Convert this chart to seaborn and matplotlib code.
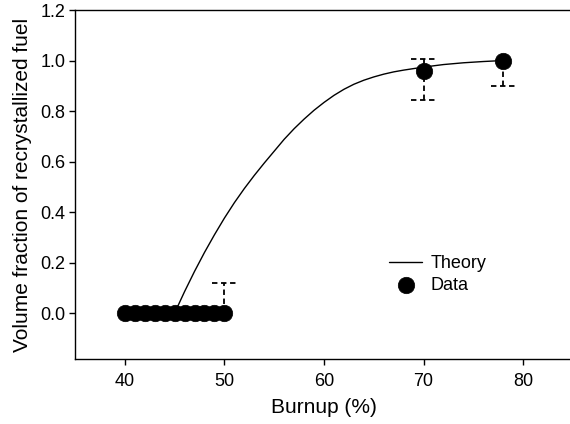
import matplotlib
matplotlib.use("Agg")
import matplotlib.pyplot as plt
import seaborn as sns
import pandas as pd

# data
data_x = [40, 41, 42, 43, 44, 45, 46, 47, 48, 49, 50, 70, 78]
data_y = [0, 0, 0, 0, 0, 0, 0, 0, 0, 0, 0, 0.96, 1.0]

# error bars (x, low end, high end); a cap is only drawn where the bar extends
err_x = [50, 70, 78]
err_lo = [0.0, 0.845, 0.90]
err_hi = [0.12, 1.005, 1.0]
cap_lo = [False, True, True]
cap_hi = [True, True, False]

# theory curve, values
theory_x = [45, 46, 47, 48, 49, 50, 51, 52, 53, 54, 55, 56, 57, 58, 59, 60,
            61, 62, 63, 64, 65, 66, 67, 68, 69, 70, 72, 74, 76, 78]
theory_y = [0.0, 0.085, 0.165, 0.240, 0.310, 0.376, 0.437, 0.493, 0.545,
            0.594, 0.641, 0.688, 0.730, 0.768, 0.803, 0.834, 0.862, 0.886,
            0.906, 0.922, 0.935, 0.946, 0.955, 0.962, 0.968, 0.974, 0.984,
            0.991, 0.996, 1.0]

sns.set_style("ticks", {'axes.edgecolor': 'black', 'xtick.color': 'black',
                        'ytick.color': 'black', 'text.color': 'black',
                        'axes.labelcolor': 'black'})
plt.rcParams['font.family'] = ['Liberation Sans', 'DejaVu Sans']

fig = plt.figure(figsize=(5.7, 4.24), dpi=100)
ax = fig.add_axes([0.1316, 0.1533, 0.8737, 0.8231])

theory = pd.DataFrame({'x': theory_x, 'y': theory_y})
points = pd.DataFrame({'x': data_x, 'y': data_y})

sns.lineplot(data=theory, x='x', y='y', ax=ax, color='black', lw=1.0,
             label='Theory', zorder=2)

# dashed error bars with dashed caps
cap = 1.25
dash = (0, (3, 2))
ax.vlines(err_x, err_lo, err_hi, colors='black', linestyles=dash, lw=1.3, zorder=1)
for x, lo, hi, clo, chi in zip(err_x, err_lo, err_hi, cap_lo, cap_hi):
    if chi:
        ax.hlines(hi, x - cap, x + cap, colors='black', linestyles=dash, lw=1.3, zorder=1)
    if clo:
        ax.hlines(lo, x - cap, x + cap, colors='black', linestyles=dash, lw=1.3, zorder=1)

sns.scatterplot(data=points, x='x', y='y', ax=ax, color='black', s=140,
                edgecolor='black', linewidth=0.5, label='Data', zorder=3)

ax.set_xlim(35, 85)
ax.set_ylim(-0.182, 1.2)
ax.set_xticks([40, 50, 60, 70, 80])
ax.set_yticks([0.0, 0.2, 0.4, 0.6, 0.8, 1.0, 1.2])
ax.set_yticklabels(['0.0', '0.2', '0.4', '0.6', '0.8', '1.0', '1.2'])
ax.tick_params(labelsize=13, length=4, width=1, direction='out', pad=3)
ax.tick_params(axis='x', pad=6)
ax.set_xlabel('Burnup (%)', fontsize=15, labelpad=6)
ax.set_ylabel('Volume fraction of recrystallized fuel', fontsize=15, labelpad=6)

for s in ['left', 'bottom', 'top']:
    ax.spines[s].set_linewidth(1.0)
ax.spines['right'].set_visible(False)

ax.legend(loc='lower left', bbox_to_anchor=(0.606, 0.15), frameon=False,
          fontsize=13, handlelength=1.8, handletextpad=0.5,
          labelspacing=0.28, borderpad=0.2)

fig.savefig('out.png', dpi=100)
